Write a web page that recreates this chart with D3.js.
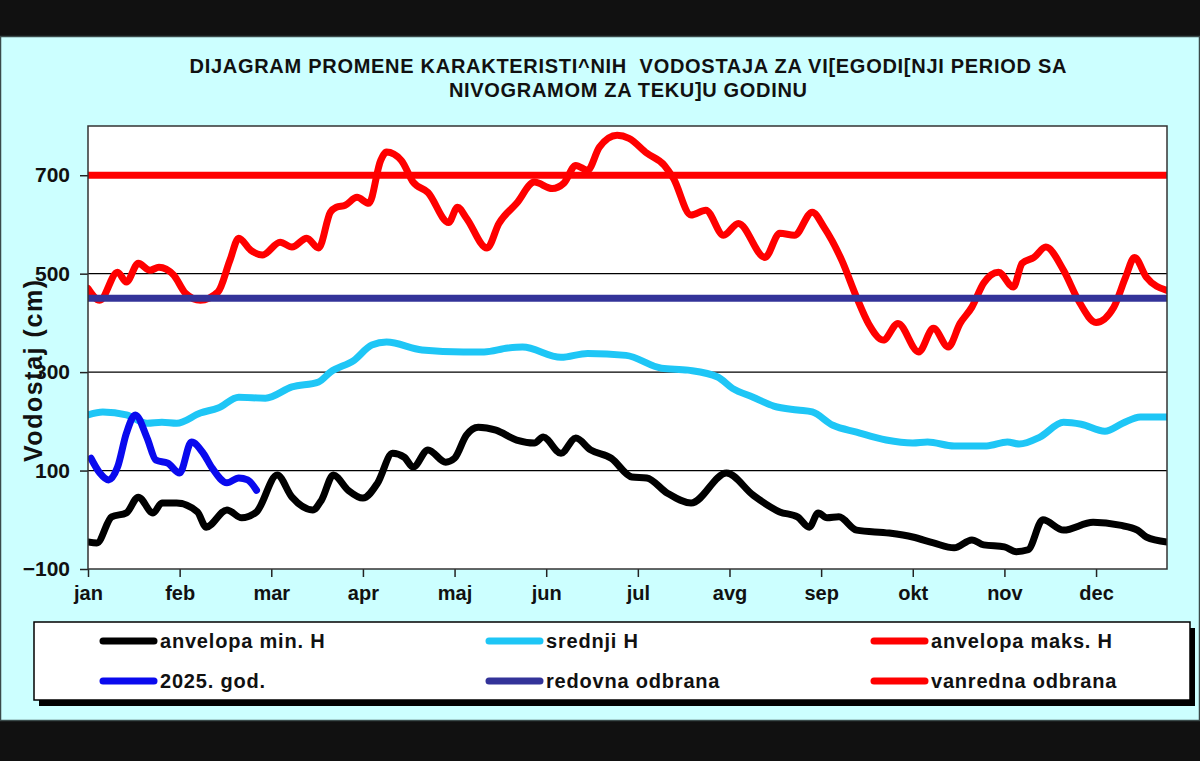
<!DOCTYPE html>
<html>
<head>
<meta charset="utf-8">
<script src="https://cdn.jsdelivr.net/npm/d3@7"></script>
<style>
  html, body { margin: 0; padding: 0; background: #111111; }
  svg { display: block; }
  text { font-family: "Liberation Sans", Arial, sans-serif; font-weight: bold; fill: #111; }
  .title { white-space: pre; }
</style>
</head>
<body>
<svg id="chart" width="1200" height="761"></svg>
<script>
// ---------------- DATA ----------------
const titleLines = [
  "DIJAGRAM PROMENE KARAKTERISTI^NIH  VODOSTAJA ZA VI[EGODI[NJI PERIOD SA",
  "NIVOGRAMOM ZA TEKU]U GODINU"
];
const yLabel = "Vodostaj (cm)";
const months = ["jan","feb","mar","apr","maj","jun","jul","avg","sep","okt","nov","dec"];
const monthTickDays = [0,31,62,93,124,155,186,217,248,279,310,341];
const yTicks = [-100, 100, 300, 500, 700];

// [day of year, value in cm]
const minH = [[0,-45],[3,-47],[8,6],[13,14],[17,46],[22,14],[25,34],[30,34],[37,16],[40,-15],[47,20],[52,4],[57,16],[64,91],[69,46],[76,20],[79,40],[83,91],[88,60],[93,44],[98,75],[103,135],[107,127],[110,107],[115,142],[121,117],[124,125],[128,172],[132,188],[138,182],[145,162],[151,156],[154,168],[160,135],[165,166],[170,142],[177,125],[184,87],[189,85],[196,54],[204,34],[216,95],[225,50],[234,16],[240,6],[244,-15],[247,14],[250,4],[254,6],[260,-21],[271,-27],[279,-35],[286,-47],[293,-57],[299,-41],[303,-51],[310,-55],[314,-65],[318,-61],[323,0],[330,-21],[340,-5],[349,-11],[355,-21],[358,-35],[365,-45]];

const meanH = [[0,213],[5,219],[13,213],[20,196],[25,198],[30,196],[38,217],[44,227],[51,249],[60,247],[69,270],[78,280],[82,300],[90,324],[96,355],[101,361],[113,345],[127,341],[134,341],[142,349],[147,351],[160,330],[169,338],[182,334],[194,308],[203,304],[213,290],[218,267],[225,249],[232,231],[240,223],[245,219],[252,192],[260,178],[270,162],[279,156],[284,158],[293,150],[304,150],[311,158],[315,154],[322,168],[330,198],[336,194],[344,180],[350,196],[356,209],[365,209]];

const maxH = [[0,470],[4,446],[10,503],[13,483],[17,521],[21,507],[24,513],[29,497],[33,460],[38,446],[44,463],[48,527],[51,572],[55,548],[59,538],[65,564],[69,554],[74,572],[78,552],[82,625],[84,635],[87,639],[91,655],[95,643],[99,730],[101,747],[106,730],[110,686],[115,665],[122,604],[125,635],[128,613],[135,552],[139,602],[145,643],[151,686],[157,673],[161,684],[165,720],[169,710],[173,757],[179,781],[183,775],[189,745],[195,720],[198,694],[204,619],[209,629],[215,578],[220,602],[229,533],[234,582],[239,578],[245,625],[249,594],[255,527],[260,452],[264,399],[269,365],[274,399],[281,341],[286,389],[291,351],[295,399],[299,432],[303,481],[308,503],[313,473],[316,521],[320,533],[324,554],[330,507],[335,446],[341,401],[347,432],[351,493],[354,533],[358,493],[365,466]];

const year2025 = [[1,125],[4,95],[7,81],[10,107],[13,176],[16,213],[20,166],[23,121],[27,115],[31,95],[35,158],[39,135],[42,105],[47,75],[51,85],[54,81],[57,60]];

const redovnaOdbrana = 450;
const vanrednaOdbrana = 700;

const legendNames = ["anvelopa min. H","srednji H","anvelopa maks. H","2025. god.","redovna odbrana","vanredna odbrana"];
const legendColors = ["#000000","#1ec6f6","#ff0000","#0a0aee","#333399","#ff0000"];

// ---------------- LAYOUT ----------------
const svg = d3.select("#chart");
const W = 1200, H = 761;
const plot = {left: 88, right: 1167, top: 126, bottom: 569};

svg.append("rect").attr("x",0).attr("y",0).attr("width",W).attr("height",H).attr("fill","#111111");
svg.append("rect").attr("x",0.5).attr("y",36.5).attr("width",1199).attr("height",684)
  .attr("fill","#ccffff").attr("stroke","#3a4a4a").attr("stroke-width",1.5);

// title
svg.selectAll("text.title").data(titleLines).enter().append("text")
  .attr("class","title")
  .attr("xml:space","preserve")
  .attr("x",628).attr("y",(d,i)=> i===0 ? 73 : 97)
  .attr("text-anchor","middle")
  .attr("font-size",20)
  .attr("textLength",(d,i)=> i===0 ? 877 : 358)
  .attr("lengthAdjust","spacing")
  .text(d=>d);

const x = d3.scaleLinear().domain([0,365]).range([plot.left, plot.right]);
const y = d3.scaleLinear().domain([-100,800]).range([plot.bottom, plot.top]);

// plot background
svg.append("rect").attr("x",plot.left).attr("y",plot.top)
  .attr("width",plot.right-plot.left).attr("height",plot.bottom-plot.top)
  .attr("fill","#ffffff");

// gridlines
svg.append("g").selectAll("line").data(yTicks.filter(v=>v>-100)).enter().append("line")
  .attr("x1",plot.left).attr("x2",plot.right)
  .attr("y1",d=>y(d)).attr("y2",d=>y(d))
  .attr("stroke","#000").attr("stroke-width",1.2);

// axes
const yAxis = svg.append("g").attr("transform",`translate(${plot.left},0)`)
  .call(d3.axisLeft(y).tickValues(yTicks).tickSize(8).tickPadding(10));
yAxis.select(".domain").remove();
yAxis.selectAll("line").attr("stroke","#222").attr("stroke-width",1.5);
yAxis.selectAll("text").attr("font-size",21).attr("fill","#111")
  .attr("font-family","Liberation Sans, Arial, sans-serif").attr("font-weight","bold");

const xAxis = svg.append("g").attr("transform",`translate(0,${plot.bottom})`)
  .call(d3.axisBottom(x).tickValues(monthTickDays).tickFormat((d,i)=>months[i]).tickSize(8).tickPadding(9));
xAxis.select(".domain").remove();
xAxis.selectAll("line").attr("stroke","#222").attr("stroke-width",1.5);
xAxis.selectAll("text").attr("font-size",20).attr("fill","#111")
  .attr("font-family","Liberation Sans, Arial, sans-serif").attr("font-weight","bold");

// y label
svg.append("text")
  .attr("transform","translate(42,371) rotate(-90)")
  .attr("text-anchor","middle")
  .attr("font-size",25)
  .attr("textLength",182).attr("lengthAdjust","spacing")
  .text(yLabel);

// series
const line = d3.line().x(d=>x(d[0])).y(d=>y(d[1])).curve(d3.curveMonotoneX);
svg.append("clipPath").attr("id","plotclip").append("rect")
  .attr("x",plot.left).attr("y",plot.top).attr("width",plot.right-plot.left).attr("height",plot.bottom-plot.top);
const g = svg.append("g").attr("clip-path","url(#plotclip)");

function drawSeries(data, color){
  g.append("path").datum(data).attr("d",line)
    .attr("fill","none").attr("stroke",color).attr("stroke-width",7)
    .attr("stroke-linecap","round").attr("stroke-linejoin","round");
}
drawSeries(minH, legendColors[0]);
drawSeries(meanH, legendColors[1]);
drawSeries(maxH, legendColors[2]);
drawSeries(year2025, legendColors[3]);

function drawLevel(v, color){
  g.append("line").attr("x1",x(0)).attr("x2",x(365)).attr("y1",y(v)).attr("y2",y(v))
    .attr("stroke",color).attr("stroke-width",7);
}
drawLevel(redovnaOdbrana, legendColors[4]);
drawLevel(vanrednaOdbrana, legendColors[5]);

// plot border
svg.append("rect").attr("x",plot.left).attr("y",plot.top)
  .attr("width",plot.right-plot.left).attr("height",plot.bottom-plot.top)
  .attr("fill","none").attr("stroke","#333").attr("stroke-width",1.5);

// legend
const lg = {x: 34, y: 622, w: 1156, h: 78};
svg.append("rect").attr("x",lg.x+5).attr("y",lg.y+6).attr("width",lg.w).attr("height",lg.h).attr("fill","#000");
svg.append("rect").attr("x",lg.x).attr("y",lg.y).attr("width",lg.w).attr("height",lg.h)
  .attr("fill","#fff").attr("stroke","#000").attr("stroke-width",1.5);

const colX = [100, 486, 871];
const rowY = [641, 681];
legendNames.forEach((name,i)=>{
  const cx = colX[i%3], cy = rowY[Math.floor(i/3)];
  svg.append("line").attr("x1",cx+3).attr("x2",cx+54).attr("y1",cy).attr("y2",cy)
    .attr("stroke",legendColors[i]).attr("stroke-width",7).attr("stroke-linecap","round");
  svg.append("text").attr("x",cx+60).attr("y",cy+7)
    .attr("font-size",20).attr("letter-spacing","0.8px")
    .text(name);
});
</script>
</body>
</html>
